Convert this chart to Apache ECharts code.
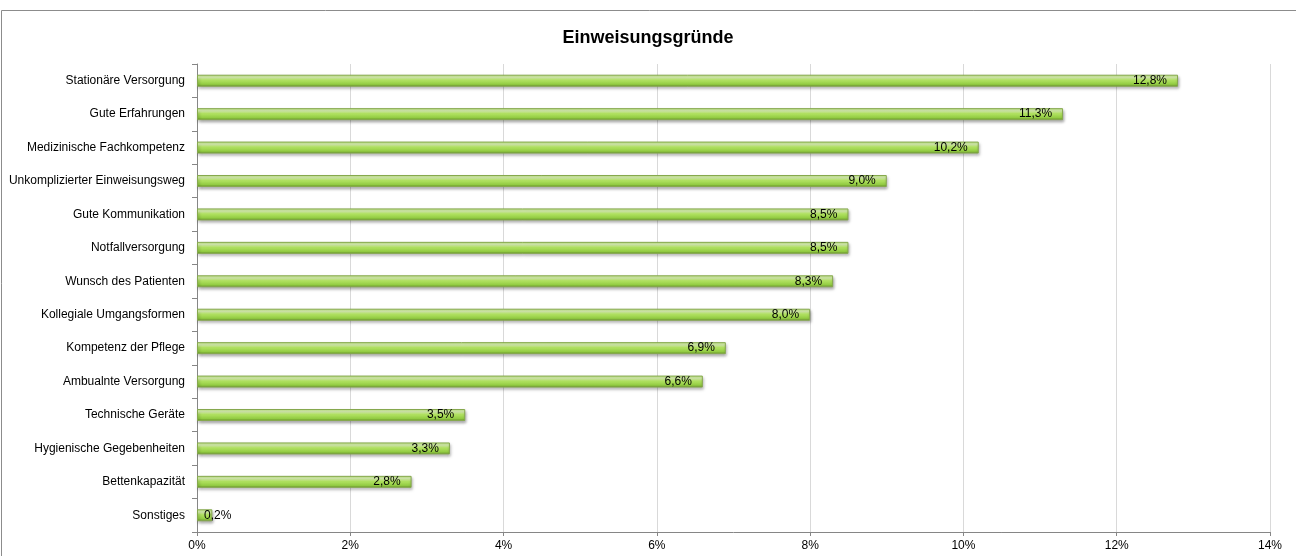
<!DOCTYPE html>
<html>
<head>
<meta charset="utf-8">
<script src="https://cdn.jsdelivr.net/npm/echarts@6/dist/echarts.min.js"></script>
<style>
  html, body { margin: 0; padding: 0; background: #fff; }
  #chart { width: 1296px; height: 556px; }
</style>
</head>
<body>
<div id="chart"></div>
<script>
// Kategorien von oben nach unten
const categories = [
  'Stationäre Versorgung',
  'Gute Erfahrungen',
  'Medizinische Fachkompetenz',
  'Unkomplizierter Einweisungsweg',
  'Gute Kommunikation',
  'Notfallversorgung',
  'Wunsch des Patienten',
  'Kollegiale Umgangsformen',
  'Kompetenz der Pflege',
  'Ambualnte Versorgung',
  'Technische Geräte',
  'Hygienische Gegebenheiten',
  'Bettenkapazität',
  'Sonstiges'
]
const shares = [12.8, 11.3, 10.2, 9.0, 8.5, 8.5, 8.3, 8.0, 6.9, 6.6, 3.5, 3.3, 2.8, 0.2]

const fmt = v => v.toFixed(1).replace('.', ',') + '%'

const chart = echarts.init(document.getElementById('chart'))

const barData = shares.map(v => {
  const item = { value: v }
  // sehr kurze Balken: Beschriftung ragt nach rechts heraus
  if (v < 1) item.label = { position: 'insideLeft', offset: [2, 0] }
  return item
})

const option = {
  animation: false,
  textStyle: { fontFamily: 'Liberation Sans, Arial, sans-serif' },
  graphic: [{
    type: 'rect',
    shape: { x: 1.5, y: 10.5, width: 1400, height: 600 },
    style: { fill: 'none', stroke: '#8c8c8c', lineWidth: 1 },
    silent: true
  }],
  title: {
    text: 'Einweisungsgründe',
    left: 'center',
    top: 24,
    textStyle: { fontSize: 18, fontWeight: 'bold', color: '#000', fontFamily: 'Liberation Sans, Arial, sans-serif' }
  },
  grid: { left: 197, right: 26, top: 64, bottom: 24 },
  xAxis: {
    type: 'value',
    min: 0,
    max: 14,
    interval: 2,
    axisLine: { show: true, lineStyle: { color: '#868686' } },
    axisTick: { show: true, length: 4, lineStyle: { color: '#868686' } },
    splitLine: { show: true, lineStyle: { color: '#d9d9d9' } },
    axisLabel: { formatter: v => v + '%', color: '#000', fontSize: 12, margin: 8 }
  },
  yAxis: {
    type: 'category',
    inverse: true,
    data: categories,
    axisLine: { show: true, lineStyle: { color: '#868686' } },
    axisTick: { show: true, length: 5, lineStyle: { color: '#868686' } },
    axisLabel: { color: '#000', fontSize: 12, margin: 12 }
  },
  series: [{
    type: 'bar',
    data: barData,
    barWidth: 12,
    itemStyle: {
      color: new echarts.graphic.LinearGradient(0, 0, 0, 1, [
        { offset: 0, color: '#bce77c' },
        { offset: 0.22, color: '#e0f8b8' },
        { offset: 0.45, color: '#b2e362' },
        { offset: 0.8, color: '#92cb42' },
        { offset: 1, color: '#648f28' }
      ]),
      borderColor: '#86a84e',
      borderWidth: 1,
      shadowColor: 'rgba(0,0,0,0.35)',
      shadowBlur: 3,
      shadowOffsetX: 1,
      shadowOffsetY: 2
    },
    label: {
      show: true,
      position: 'insideRight',
      offset: [-6, 0],
      color: '#000',
      fontSize: 12,
      formatter: p => fmt(p.value)
    }
  }]
}

chart.setOption(option)
</script>
</body>
</html>
